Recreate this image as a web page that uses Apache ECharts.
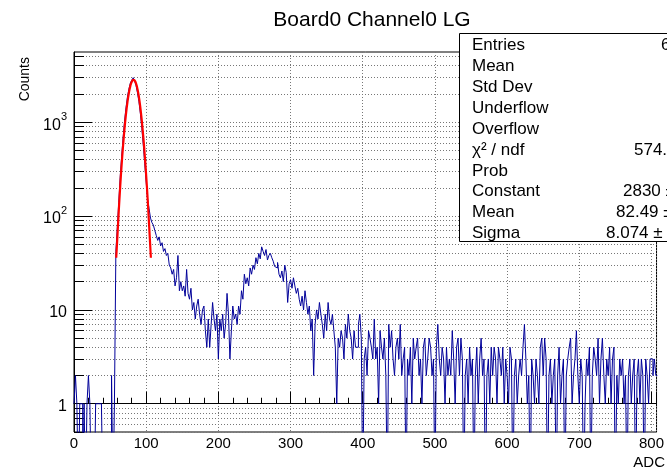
<!DOCTYPE html>
<html><head><meta charset="utf-8">
<script src="https://cdn.jsdelivr.net/npm/echarts@6/dist/echarts.min.js"></script>
<style>html,body{margin:0;padding:0;background:#fff}#c{width:667px;height:472px}</style>
</head><body><div id="c"></div><script>
// ---------- data ----------
const chartTitle = 'Board0 Channel0 LG';
const xTitle = 'ADC';
const yTitle = 'Counts';
const binWidth = 2;            // ADC units per drawn bin
const binCounts = [
  1,2,1,0,1,1,0,1,0,1,
  2,1,0,0,0,1,1,1,1,1,
  0,0,0,0,0,0,2,0,
  1,42,
  75,140,260,430,680,1020,1420,1850,2250,2600,
  2800,2980,2750,2450,2050,1650,1230,860,570,360,
  230,150,120,95,85,80,70,62,55,60,
  48,52,42,45,38,40,30,28,24,27,
  18,22,38,16,20,16,18,14,27,15,
  13,17,10,12,8,11,13,9,7,10,
  11,6,4,8,4,7,12,8,6,9,
  3,8,6,9,5,7,15,9,3,6,
  11,8,9,7,11,9,16,13,24,19,
  22,18,28,24,30,27,36,31,40,35,
  47,42,38,44,34,38,40,36,33,29,
  28,32,24,22,26,20,30,25,12,19,
  21,17,22,18,15,17,13,11,14,10,
  16,12,9,11,6,8,2,7,10,8,
  12,9,7,5,9,6,12,8,7,9,
  6,4,1,5,4,6,5,3,7,5,
  9,6,5,3,6,4,4,7,9,5,
  0,3,4,2,6,5,4,3,8,3,
  4,1,6,4,3,5,2,0,7,4,
  6,3,2,4,5,3,7,2,3,4,
  0,3,2,4,1,5,3,4,5,2,
  3,1,4,5,2,3,5,4,2,3,
  0,4,7,3,2,4,3,1,4,2,
  3,2,6,3,1,4,5,2,5,3,
  0,2,3,1,4,2,3,0,2,4,
  1,3,5,2,3,0,2,3,1,4,
  2,4,3,1,4,3,2,4,1,3,
  2,1,4,3,0,2,3,1,2,3,
  2,4,7,3,1,2,0,3,2,1,
  3,2,1,4,5,2,5,3,0,2,
  3,1,2,3,0,2,4,1,2,3,
  0,2,3,4,5,1,2,3,6,2,
  1,3,2,0,1,3,2,4,0,2,
  4,3,2,5,1,3,5,2,1,3,
  2,4,1,3,4,0,2,1,3,2,
  3,1,2,0,2,3,1,2,3,0,
  2,3,1,3,2,0,3,2,1,3,
  3,2,3,2
];
const fitX = [58.5,60,62,64,66,68,70,72,74,76,78,80,82,84,86,88,90,92,94,96,98,100,102,104,106.5];
const fitY = [36,58,113,206,353,565,855,1217,1628,2049,2424,2700,2825,2780,2575,2243,1836,1414,1024,698,447,269,153,81,36];
const xTickValues = [0,100,200,300,400,500,600,700,800];
const yLabelValues = [1,10,100,1000];
const yGridValues = [0.5,0.6,0.7,0.8,0.9,1,2,3,4,5,6,7,8,9,10,20,30,40,50,60,70,80,90,100,200,300,400,500,600,700,800,900,1000,2000,3000,4000,5000];
const yMin = 0.5, yMax = 5600, xMin = 0, xMax = 807;
const statLabels = ['Entries','Mean','Std Dev','Underflow','Overflow','χ² / ndf','Prob','Constant','Mean','Sigma'];
const statValues = ['6','','','','','574.','','2830 ±','82.49 ±','8.074 ±'];

// ---------- layout ----------
const statValueX = [661,0,0,0,0,634,0,623,616,606];
const lg = v => Math.round(Math.log10(v) * 1e9) / 1e9;
const FONT = '"Liberation Sans", Arial, Helvetica, sans-serif';

const histData = binCounts.map((c, i) => [i * binWidth, c > 0 ? c : 0.1]);
histData.push([binCounts.length * binWidth, binCounts[binCounts.length - 1] || 0.1]);
const fitData = fitX.map((x, i) => [x, fitY[i]]);

const chart = echarts.init(document.getElementById('c'), null, {renderer: 'canvas'});
const statGraphics = [{
  type: 'rect', z: 100,
  shape: {x: 459.5, y: 33.5, width: 240, height: 208},
  style: {fill: '#fff', stroke: '#000', lineWidth: 1}
}];
statLabels.forEach((t, i) => {
  const y = 45.5 + i * 20.9;
  statGraphics.push({type: 'text', z: 101, x: 472, y: y,
    style: {text: t, font: '17px ' + FONT, fill: '#000', textAlign: 'left', textVerticalAlign: 'middle'}});
  if (statValues[i]) statGraphics.push({type: 'text', z: 101, x: statValueX[i], y: y,
    style: {text: statValues[i], font: '17px ' + FONT, fill: '#000', textAlign: 'left', textVerticalAlign: 'middle'}});
});

chart.setOption({
  animation: false,
  backgroundColor: '#fff',
  grid: {left: 74, right: -2, top: 52, bottom: 40, show: true, borderColor: '#000', borderWidth: 1},
  xAxis: {
    type: 'value', min: xMin, max: xMax, interval: 100,
    axisLine: {lineStyle: {color: '#000', width: 1}},
    axisTick: {inside: true, length: 12, lineStyle: {color: '#000'}},
    minorTick: {show: true, splitNumber: 5, length: 6, lineStyle: {color: '#000'}},
    splitLine: {show: true, lineStyle: {color: '#777', type: [1, 2], width: 1}},
    axisLabel: {color: '#000', fontSize: 15, fontFamily: FONT, margin: 4,
      formatter: v => xTickValues.indexOf(v) >= 0 ? String(v) : ''}
  },
  yAxis: [
    {type: 'log', min: yMin, max: yMax, show: false},
    {type: 'value', min: lg(yMin), max: lg(yMax), position: 'left',
      axisLine: {show: true, lineStyle: {color: '#000'}},
      axisTick: {show: true, inside: true, length: 10, customValues: yGridValues.map(lg), lineStyle: {color: '#000'}},
      splitLine: {show: true, lineStyle: {color: '#777', type: [1, 2], width: 1}},
      axisLabel: {show: true, customValues: yLabelValues.map(lg), color: '#000', fontSize: 16, fontFamily: FONT, margin: 7,
        formatter: v => { const p = Math.round(v); return p === 0 ? '{n|1}' : p === 1 ? '{n|10}' : '{n|10}{s|' + p + '}'; },
        rich: {n: {fontSize: 16, fontFamily: FONT, color: '#000', verticalAlign: 'bottom', lineHeight: 22},
               s: {fontSize: 11, fontFamily: FONT, color: '#000', verticalAlign: 'top', lineHeight: 22}}
      }
    },
    {type: 'value', min: lg(yMin), max: lg(yMax), position: 'left',
      axisLine: {show: false},
      axisTick: {show: true, inside: true, length: 18, customValues: yLabelValues.map(lg), lineStyle: {color: '#000'}},
      splitLine: {show: false}, axisLabel: {show: false}
    }
  ],
  series: [
    {type: 'line', name: 'hist', yAxisIndex: 0, data: histData, step: 'end', symbol: 'none', clip: true,
      lineStyle: {color: '#000099', width: 1}, z: 3},
    {type: 'line', name: 'fit', yAxisIndex: 0, data: fitData, smooth: true, symbol: 'none', clip: true,
      lineStyle: {color: '#ff0000', width: 2.2}, z: 4}
  ],
  graphic: [
    {type: 'text', x: 372, y: 20, style: {text: chartTitle, font: '21px ' + FONT, fill: '#000', textAlign: 'center', textVerticalAlign: 'middle'}},
    {type: 'text', x: 25, y: 57, rotation: Math.PI / 2, style: {text: yTitle, font: '14px ' + FONT, fill: '#000', textAlign: 'right', textVerticalAlign: 'middle'}},
    {type: 'text', x: 665, y: 463, style: {text: xTitle, font: '15px ' + FONT, fill: '#000', textAlign: 'right', textVerticalAlign: 'middle'}}
  ].concat(statGraphics)
});
</script></body></html>
